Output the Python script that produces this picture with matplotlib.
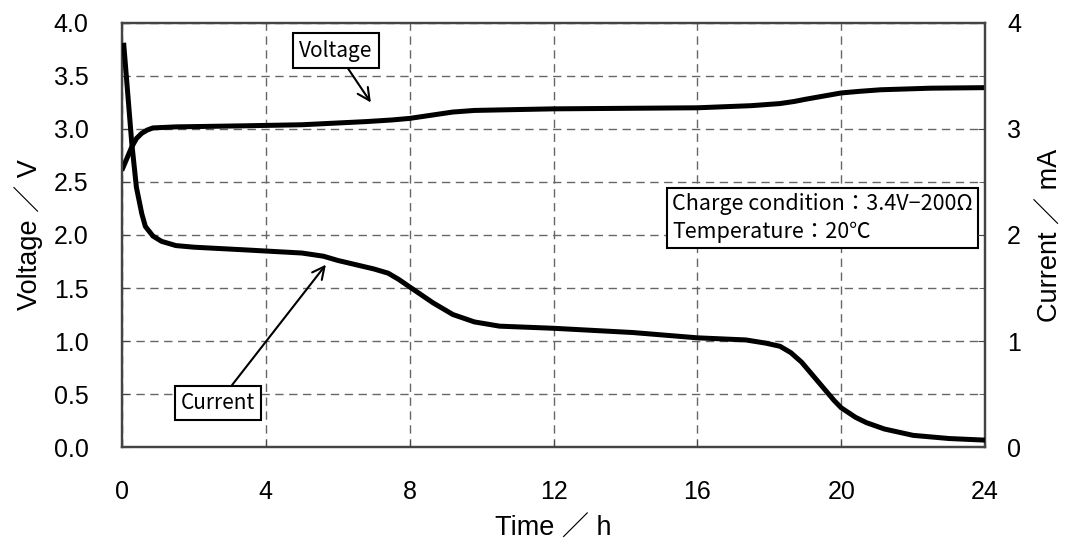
import matplotlib
matplotlib.use("Agg")
import matplotlib.pyplot as plt

# data
time_v = [0.02, 0.27, 0.4, 0.55, 0.7, 0.86, 1.5, 3.4, 5.0, 6.8, 7.5, 8.0, 8.6, 9.2,
          9.8, 10.5, 12.0, 14.0, 16.0, 17.5, 18.3, 18.7, 19.0, 19.5, 20.0, 20.5,
          21.1, 22.5, 24.0]
voltage = [2.63, 2.83, 2.91, 2.96, 2.99, 3.01, 3.02, 3.03, 3.04, 3.07, 3.085, 3.10,
           3.13, 3.16, 3.175, 3.18, 3.19, 3.195, 3.20, 3.22, 3.24, 3.26, 3.28, 3.31,
           3.34, 3.355, 3.37, 3.385, 3.39]

time_i = [0.05, 0.27, 0.4, 0.55, 0.65, 0.86, 1.1, 1.5, 2.0, 3.4, 5.0, 5.6, 6.0,
          6.5, 7.0, 7.4, 7.7, 8.0, 8.65, 9.2, 9.8, 10.5, 12.0, 14.2, 16.0, 17.35,
          17.9, 18.3, 18.6, 18.9, 19.2, 19.5, 19.8, 20.0, 20.4, 20.7, 21.2, 22.0,
          23.0, 24.0]
current = [3.79, 2.87, 2.45, 2.2, 2.08, 1.99, 1.94, 1.90, 1.885, 1.86, 1.83, 1.80,
           1.76, 1.72, 1.68, 1.64, 1.58, 1.51, 1.36, 1.25, 1.18, 1.14, 1.12, 1.08,
           1.03, 1.01, 0.98, 0.95, 0.89, 0.80, 0.68, 0.56, 0.44, 0.37, 0.28, 0.23,
           0.17, 0.11, 0.08, 0.065]

x_ticks = [0, 4, 8, 12, 16, 20, 24]
v_ticks = [0.0, 0.5, 1.0, 1.5, 2.0, 2.5, 3.0, 3.5, 4.0]
i_ticks = [0, 1, 2, 3, 4]

fonts = ['Liberation Sans', 'Noto Sans CJK JP', 'DejaVu Sans']
jp = ['Noto Sans CJK JP', 'DejaVu Sans']
plt.rcParams['font.family'] = fonts

fig = plt.figure(figsize=(10.77, 5.46), dpi=100)
ax = fig.add_axes([0.1133, 0.1813, 0.8013, 0.7766])
ax2 = ax.twinx()

ax.plot(time_v, voltage, color='black', lw=3.6, solid_joinstyle='round', zorder=3)
ax2.plot(time_i, current, color='black', lw=3.6, solid_joinstyle='round', zorder=3)

ax.set_xlim(0, 24)
ax.set_ylim(0, 4)
ax2.set_ylim(0, 4)
ax.set_xticks(x_ticks)
ax.set_yticks(v_ticks)
ax.set_yticklabels(['%.1f' % v for v in v_ticks])
ax2.set_yticks(i_ticks)
ax2.set_yticks(v_ticks, minor=True)

ax.grid(True, color='#666666', ls=(0, (6, 4)), lw=1.0)
ax.set_axisbelow(True)

ax.tick_params(axis='both', direction='in', length=5, labelsize=18, color='#444444')
ax.tick_params(axis='y', pad=24)
ax.tick_params(axis='x', pad=24)
ax2.tick_params(axis='y', which='both', direction='in', length=5, labelsize=18,
                pad=16, color='#444444')
ax2.tick_params(axis='y', which='minor', length=4)

for a in (ax, ax2):
    for s in a.spines.values():
        s.set_color('#444444')
        s.set_linewidth(1.6)

ax.set_xlabel('Time ／ h', fontsize=19.5, labelpad=8)
ax.set_ylabel('Voltage ／ V', fontsize=19.5, labelpad=8)
ax2.set_ylabel('Current ／ mA', fontsize=19.5, labelpad=12)

box = dict(boxstyle='square,pad=0.3', fc='white', ec='black', lw=1.5)
arrow = dict(arrowstyle='->', color='black', lw=1.5, mutation_scale=22, shrinkA=0, shrinkB=0)
ax.annotate('Voltage', xy=(6.92, 3.25), xytext=(5.95, 3.74), fontsize=15,
            family=jp, ha='center', va='center', bbox=box, arrowprops=arrow, zorder=5)
ax.annotate('Current', xy=(5.67, 1.72), xytext=(2.67, 0.415), fontsize=15,
            family=jp, ha='center', va='center', bbox=box, arrowprops=arrow, zorder=5)

ax.text(15.3, 2.16, 'Charge condition：3.4V−200Ω\nTemperature：20℃', fontsize=15.5,
        family=jp, ha='left', va='center', linespacing=1.3,
        bbox=dict(boxstyle='square,pad=0.25', fc='white', ec='black', lw=1.5), zorder=5)

fig.savefig('out.png', dpi=100)
